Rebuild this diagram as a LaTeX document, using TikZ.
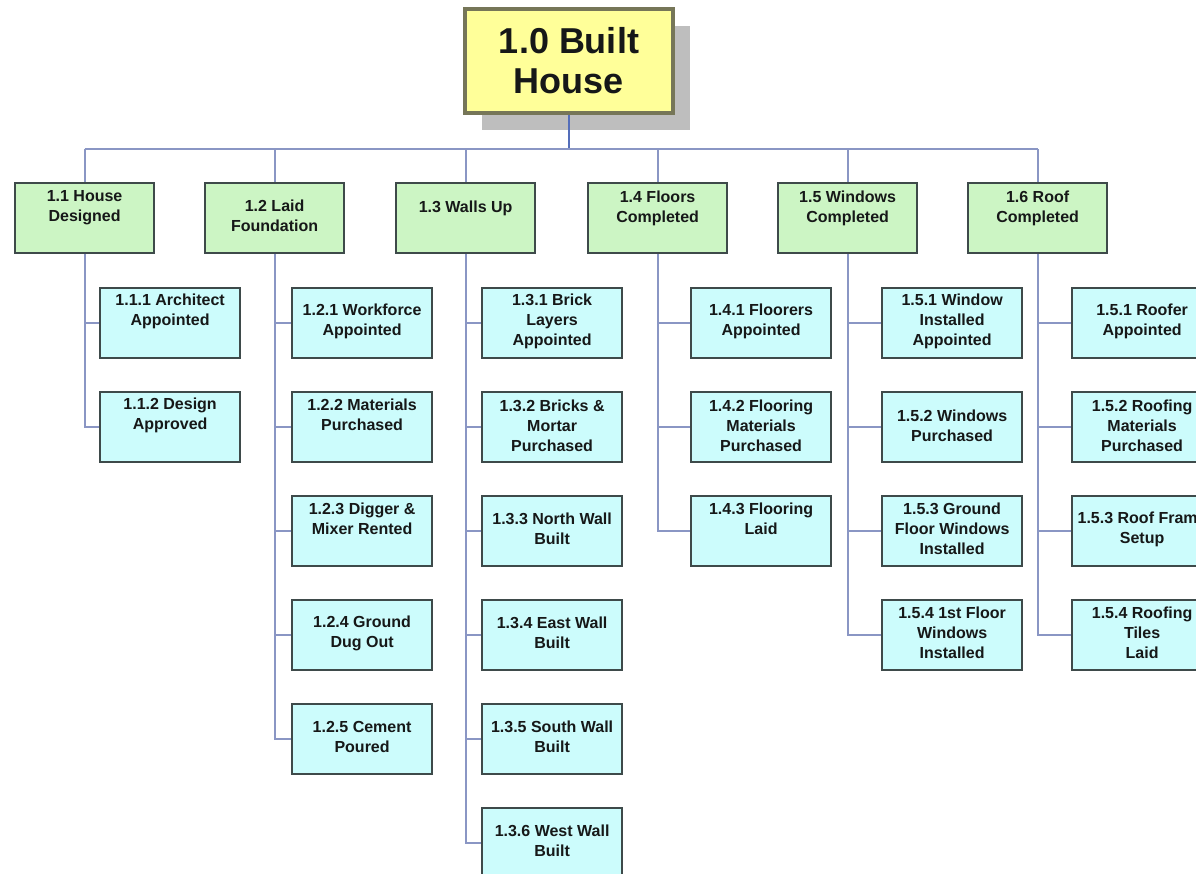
\documentclass[tikz,border=0pt]{standalone}
\usepackage{fontspec}
\setmainfont{Liberation Sans}
\usetikzlibrary{shadows}

\definecolor{rootfill}{RGB}{255,255,153}
\definecolor{rootline}{RGB}{118,118,88}
\definecolor{shadowgray}{RGB}{190,190,190}
\definecolor{greenfill}{RGB}{204,245,196}
\definecolor{cyanfill}{RGB}{204,252,252}
\definecolor{boxline}{RGB}{62,74,74}
\definecolor{linkcol}{RGB}{138,150,196}
\definecolor{trunkcol}{RGB}{84,110,186}
\definecolor{textcol}{RGB}{22,24,24}

\tikzset{
  rootbox/.style={draw=rootline, line width=3.5pt, fill=rootfill,
    minimum width=208pt, minimum height=104pt, inner sep=0pt, align=center,
    font=\bfseries\fontsize{36}{40}\selectfont, text=textcol,
    drop shadow={shadow xshift=17pt, shadow yshift=-17pt, fill=shadowgray, opacity=1}},
  lvlone/.style={draw=boxline, line width=2.2pt, fill=greenfill,
    minimum width=139pt, minimum height=70pt, inner sep=0pt, anchor=north west},
  lvltwo/.style={draw=boxline, line width=2.2pt, fill=cyanfill,
    minimum width=140pt, minimum height=70pt, inner sep=0pt, anchor=north west},
  lbl/.style={align=center, inner sep=0pt, text=textcol,
    font=\bfseries\fontsize{16}{20}\selectfont},
  link/.style={draw=linkcol, line width=2pt},
  trunk/.style={draw=trunkcol, line width=2pt},
}

% box style, name, left x, top y, text drop from top edge, text
\newcommand\wbsbox[6]{%
  \node[#1] (#2) at (#3,#4) {};
  \node[lbl] (#2-t) at ([yshift=-#5pt]#2.north) {#6};%
}

\begin{document}
\begin{tikzpicture}[x=1pt, y=-1pt]
\useasboundingbox (0,0) rectangle (1196,873);
\clip (0,0) rectangle (1196,873);
\fill[white] (0,0) rectangle (1196,873);

% top of the breakdown
\node[rootbox] (root) at (569,61) {1.0 Built\\House};
\coordinate (bar) at (0,149);

% deliverables
\wbsbox{lvlone}{n11}{14}{182}{26}{1.1 House\\Designed}
\wbsbox{lvlone}{n12}{204}{182}{34}{1.2 Laid\\Foundation}
\wbsbox{lvlone}{n13}{395}{182}{26}{1.3 Walls Up}
\wbsbox{lvlone}{n14}{587}{182}{26}{1.4 Floors\\Completed}
\wbsbox{lvlone}{n15}{777}{182}{26}{1.5 Windows\\Completed}
\wbsbox{lvlone}{n16}{967}{182}{26}{1.6 Roof\\Completed}

% work packages
\wbsbox{lvltwo}{n111}{99}{287}{24}{1.1.1 Architect\\Appointed}
\wbsbox{lvltwo}{n112}{99}{391}{24}{1.1.2 Design\\Approved}

\wbsbox{lvltwo}{n121}{291}{287}{34}{1.2.1 Workforce\\Appointed}
\wbsbox{lvltwo}{n122}{291}{391}{24}{1.2.2 Materials\\Purchased}
\wbsbox{lvltwo}{n123}{291}{495}{24}{1.2.3 Digger \&\\Mixer Rented}
\wbsbox{lvltwo}{n124}{291}{599}{34}{1.2.4 Ground\\Dug Out}
\wbsbox{lvltwo}{n125}{291}{703}{34}{1.2.5 Cement\\Poured}

\wbsbox{lvltwo}{n131}{481}{287}{34}{1.3.1 Brick\\Layers\\Appointed}
\wbsbox{lvltwo}{n132}{481}{391}{35}{1.3.2 Bricks \&\\Mortar\\Purchased}
\wbsbox{lvltwo}{n133}{481}{495}{34}{1.3.3 North Wall\\Built}
\wbsbox{lvltwo}{n134}{481}{599}{34}{1.3.4 East Wall\\Built}
\wbsbox{lvltwo}{n135}{481}{703}{34}{1.3.5 South Wall\\Built}
\wbsbox{lvltwo}{n136}{481}{807}{34}{1.3.6 West Wall\\Built}

\wbsbox{lvltwo}{n141}{690}{287}{34}{1.4.1 Floorers\\Appointed}
\wbsbox{lvltwo}{n142}{690}{391}{35}{1.4.2 Flooring\\Materials\\Purchased}
\wbsbox{lvltwo}{n143}{690}{495}{24}{1.4.3 Flooring\\Laid}

\wbsbox{lvltwo}{n151}{881}{287}{34}{1.5.1 Window\\Installed\\Appointed}
\wbsbox{lvltwo}{n152}{881}{391}{35}{1.5.2 Windows\\Purchased}
\wbsbox{lvltwo}{n153}{881}{495}{34}{1.5.3 Ground\\Floor Windows\\Installed}
\wbsbox{lvltwo}{n154}{881}{599}{34}{1.5.4 1st Floor\\Windows\\Installed}

\wbsbox{lvltwo}{n161}{1071}{287}{34}{1.5.1 Roofer\\Appointed}
\wbsbox{lvltwo}{n162}{1071}{391}{35}{1.5.2 Roofing\\Materials\\Purchased}
\wbsbox{lvltwo}{n163}{1071}{495}{34}{1.5.3 Roof Frame\\Setup}
\wbsbox{lvltwo}{n164}{1071}{599}{34}{1.5.4 Roofing\\Tiles\\Laid}

% connectors from the top box to the deliverables
\draw[trunk] (root.south) -- (root.south |- bar);
\draw[link] (n11.north |- bar) -- (n16.north |- bar);
\foreach \d in {n11,n12,n13,n14,n15,n16}
  \draw[link] (\d.north |- bar) -- (\d.north);

% connectors from each deliverable to its work packages
\foreach \p/\cs in {n11/{n111,n112},
                    n12/{n121,n122,n123,n124,n125},
                    n13/{n131,n132,n133,n134,n135,n136},
                    n14/{n141,n142,n143},
                    n15/{n151,n152,n153,n154},
                    n16/{n161,n162,n163,n164}}
  \foreach \c in \cs
    \draw[link] (\p.south) |- (\c.west);
\end{tikzpicture}
\end{document}
